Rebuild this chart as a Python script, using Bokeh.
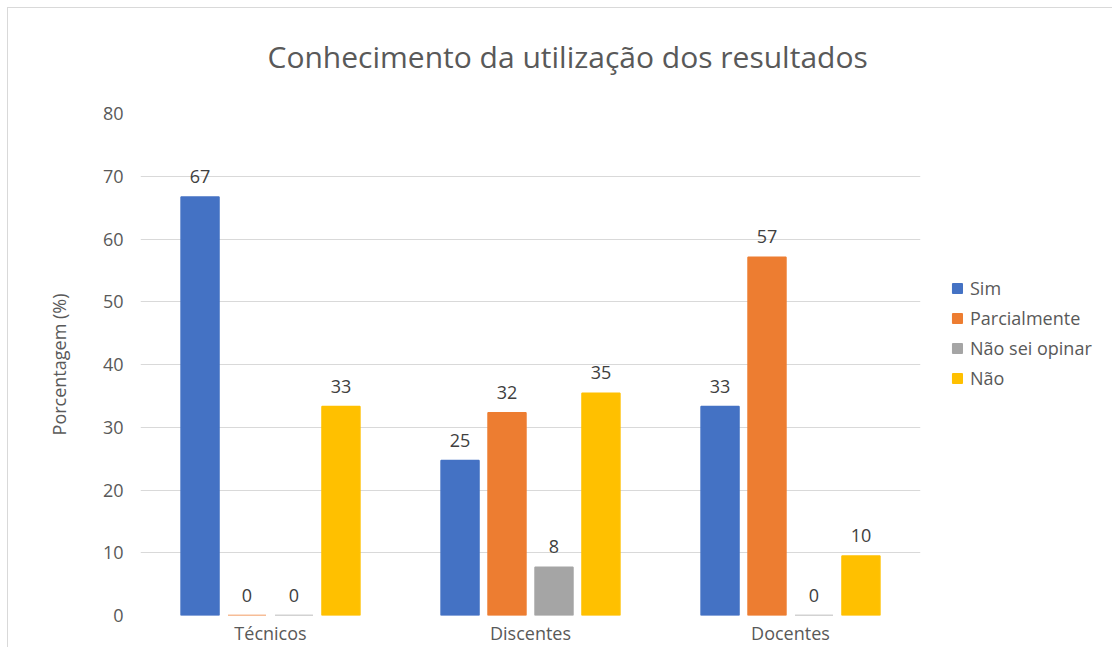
from bokeh.plotting import figure
from bokeh.models import ColumnDataSource, FactorRange, LabelSet, Legend, LegendItem, Title
from bokeh.core.properties import value
from bokeh.transform import dodge
from bokeh.embed import file_html
from bokeh.resources import INLINE

categories = ["Técnicos", "Discentes", "Docentes"]
series_names = ["Sim", "Parcialmente", "Não sei opinar", "Não"]
sim = [66.7, 24.7, 33.3]
parcialmente = [0.0, 32.3, 57.1]
nao_sei = [0.0, 7.7, 0.0]
nao = [33.3, 35.4, 9.5]
y_ticks = [0, 10, 20, 30, 40, 50, 60, 70, 80]

colors = ["#4472C4", "#ED7D31", "#A5A5A5", "#FFC000"]
series_values = [sim, parcialmente, nao_sei, nao]
offsets = [-0.271, -0.0904, 0.0904, 0.271]
bar_w = 0.146

FONT = "Open Sans"
FS = "18px"

p = figure(
    x_range=FactorRange(factors=categories, range_padding=0),
    y_range=(0, 80),
    frame_width=780, frame_height=502,
    output_backend="svg", toolbar_location=None,
    min_border_left=132, min_border_right=170,
    min_border_top=105, min_border_bottom=20,
    title="Conhecimento da utilização dos resultados",
)
p.styles = {"margin-top": "7px", "margin-left": "7px",
            "border-top": "1px solid #d9d9d9", "border-left": "1px solid #d9d9d9"}
p.outline_line_color = None
p.background_fill_color = "white"
p.border_fill_color = "white"

p.title.text_font = FONT
p.title.text_font_size = "30px"
p.title.text_font_style = "normal"
p.title.text_color = "#595959"
p.title.align = "left"
p.title.offset = 127
p.title.standoff = 0

# spacer between the frame and the title
p.add_layout(Title(text=" ", text_font_size="1px", standoff=34), "above")

items = []
for name, vals, col, off in zip(series_names, series_values, colors, offsets):
    src = ColumnDataSource(dict(
        cat=categories, val=vals, lbl=[str(int(round(v))) for v in vals]))
    r = p.vbar(x=dodge("cat", off, range=p.x_range), top="val", bottom=0,
               width=bar_w, source=src, fill_color=col, line_color=col, line_width=1.5)
    items.append(LegendItem(label=name, renderers=[r]))
    labels = LabelSet(x=dodge("cat", off, range=p.x_range), y="val", text="lbl",
                      source=src, text_align="center", text_baseline="bottom",
                      y_offset=14, text_font=value(FONT), text_font_size=value(FS),
                      text_color="#404040")
    p.add_layout(labels)

legend = Legend(items=items, location=(31, 225), orientation="vertical")
legend.label_text_font = FONT
legend.label_text_font_size = FS
legend.label_text_color = "#595959"
legend.glyph_width = 12
legend.glyph_height = 12
legend.label_height = 20
legend.spacing = 6
legend.padding = 0
legend.margin = 0
legend.label_standoff = 7
legend.border_line_color = None
legend.background_fill_alpha = 0
p.add_layout(legend, "right")

p.yaxis.ticker = y_ticks
p.yaxis.axis_line_color = None
p.yaxis.major_tick_line_color = None
p.yaxis.minor_tick_line_color = None
p.yaxis.major_tick_out = 0
p.yaxis.major_tick_in = 0
p.yaxis.minor_tick_out = 0
p.yaxis.minor_tick_in = 0
p.yaxis.major_label_text_font = FONT
p.yaxis.major_label_text_font_size = FS
p.yaxis.major_label_text_color = "#595959"
p.yaxis.major_label_standoff = 17
p.yaxis.axis_label = "Porcentagem (%)"
p.yaxis.axis_label_text_font = FONT
p.yaxis.axis_label_text_font_size = FS
p.yaxis.axis_label_text_font_style = "normal"
p.yaxis.axis_label_text_color = "#595959"
p.yaxis.axis_label_standoff = 29

p.xaxis.axis_line_color = None
p.xaxis.major_tick_line_color = None
p.xaxis.minor_tick_line_color = None
p.xaxis.major_tick_out = 0
p.xaxis.major_tick_in = 0
p.xaxis.minor_tick_out = 0
p.xaxis.minor_tick_in = 0
p.xaxis.major_label_text_font = FONT
p.xaxis.major_label_text_font_size = FS
p.xaxis.major_label_text_color = "#595959"
p.xaxis.major_label_standoff = 5

p.xgrid.grid_line_color = None
p.ygrid.grid_line_color = "#d9d9d9"
p.ygrid.grid_line_width = 1

open("out.html", "w").write(file_html(p, INLINE))
